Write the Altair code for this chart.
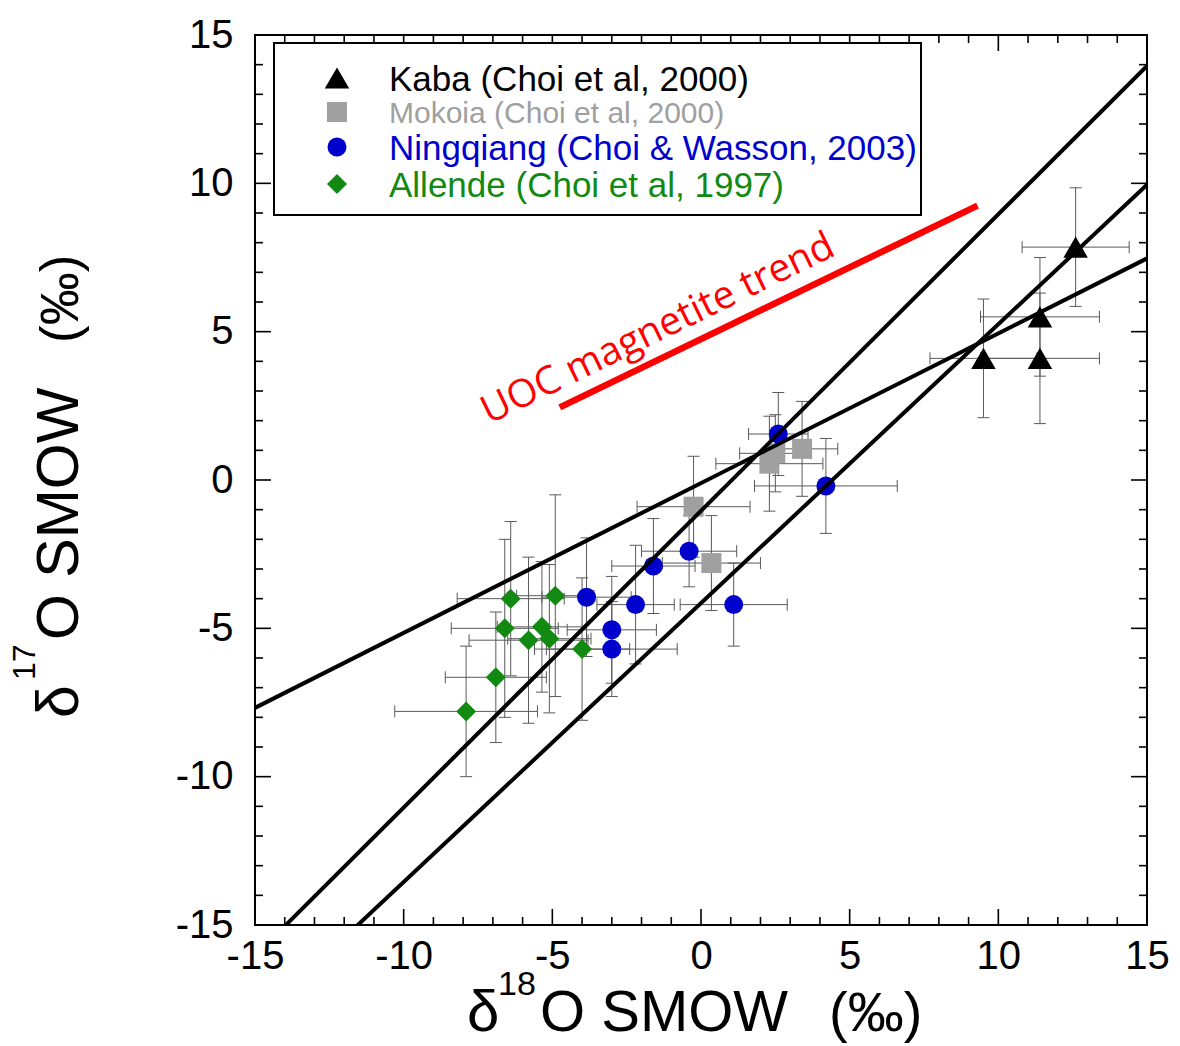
import altair as alt
import pandas as pd

# ---------------- data ----------------
kaba_x = [9.5, 11.4, 11.4, 12.6]
kaba_y = [4.1, 4.1, 5.5, 7.85]
kaba_xerr = [1.8, 2.0, 2.0, 1.8]
kaba_yerr = [2.0, 2.2, 2.0, 2.0]

mokoia_x = [-0.25, 0.35, 2.3, 2.5, 3.4]
mokoia_y = [-0.9, -2.8, 0.55, 0.9, 1.05]
mokoia_xerr = [1.9, 1.65, 1.8, 1.2, 1.2]
mokoia_yerr = [1.7, 1.6, 1.6, 1.3, 1.6]

ning_x = [2.6, 4.2, -1.6, -0.4, -3.85, -2.2, 1.1, -3.0, -3.0]
ning_y = [1.55, -0.2, -2.9, -2.4, -3.95, -4.2, -4.2, -5.05, -5.7]
ning_xerr = [1.0, 2.4, 1.4, 1.6, 1.5, 1.3, 1.8, 1.5, 2.2]
ning_yerr = [1.4, 1.6, 1.6, 1.2, 2.0, 2.0, 1.4, 1.8, 1.6]

allende_x = [-6.4, -4.9, -6.6, -5.35, -5.8, -5.1, -4.0, -6.9, -7.9]
allende_y = [-4.0, -3.9, -5.0, -4.95, -5.4, -5.35, -5.7, -6.65, -7.8]
allende_xerr = [1.8, 1.3, 1.8, 1.5, 2.0, 1.4, 1.6, 1.7, 2.4]
allende_yerr = [2.6, 3.4, 3.0, 2.2, 2.8, 2.5, 2.4, 2.2, 2.2]

series_names = ["Kaba (Choi et al, 2000)", "Mokoia (Choi et al, 2000)",
                "Ningqiang (Choi & Wasson, 2003)", "Allende (Choi et al, 1997)"]
series_colors = ["#000000", "#a0a0a0", "#0000cc", "#128a12"]
series_shapes = ["triangle-up", "square", "circle", "diamond"]
series_sizes = [600, 400, 360, 400]
legend_font_sizes = [35, 30, 35, 35]

# reference lines (endpoints at x = -15 and x = 15)
line_names = ["slope 1.0", "CCAM", "TFL"]
line_x0 = [-15, -15, -15]
line_x1 = [15, 15, 15]
line_y0 = [-16.04, -18.25, -7.68]
line_y1 = [13.96, 9.95, 7.47]

# UOC magnetite trend segment
trend_x = [-4.75, 9.3]
trend_y = [2.45, 9.25]
trend_label = "UOC magnetite trend"

major_ticks = [-15, -10, -5, 0, 5, 10, 15]
minor_ticks = [v for v in range(-14, 15) if v % 5 != 0]

# ---------------- tables ----------------
groups = [
    (kaba_x, kaba_y, kaba_xerr, kaba_yerr),
    (mokoia_x, mokoia_y, mokoia_xerr, mokoia_yerr),
    (ning_x, ning_y, ning_xerr, ning_yerr),
    (allende_x, allende_y, allende_xerr, allende_yerr),
]
rows = []
for i, (xs_, ys_, xe_, ye_) in enumerate(groups):
    for x, y, xe, ye in zip(xs_, ys_, xe_, ye_):
        rows.append(dict(series=series_names[i], order=i, x=x, y=y,
                         xlo=x - xe, xhi=x + xe, ylo=y - ye, yhi=y + ye,
                         color=series_colors[i], shape=series_shapes[i],
                         size=series_sizes[i]))
pts = pd.DataFrame(rows)

lines = pd.DataFrame({
    "name": line_names * 2,
    "x": line_x0 + line_x1,
    "y": line_y0 + line_y1,
})
trend = pd.DataFrame({"x": trend_x, "y": trend_y})
trend_txt = pd.DataFrame({"t": [trend_label], "x": [-1.45], "y": [5.1]})

FONT = "Liberation Sans"
xs = alt.Scale(domain=[-15, 15], nice=False, zero=False)
ys = alt.Scale(domain=[-15, 15], nice=False, zero=False)
xaxis = alt.Axis(values=major_ticks, labelFontSize=40, labelFont=FONT,
                 labelColor="black", ticks=False, domain=False, grid=False,
                 title=None, labelPadding=11, labelFlush=False,
                 labelOverlap=False, labelExpr="datum.value + ''")
yaxis = alt.Axis(values=major_ticks, labelFontSize=40, labelFont=FONT,
                 labelColor="black", ticks=False, domain=False, grid=False,
                 title=None, labelPadding=22, labelFlush=False,
                 labelOverlap=False, labelExpr="datum.value + ''")

X = alt.X("x:Q", scale=xs, axis=xaxis)
Y = alt.Y("y:Q", scale=ys, axis=yaxis)

W, H = 892, 890
ERR = "#5a5a5a"

# error bars
vbar = alt.Chart(pts).mark_rule(color=ERR, strokeWidth=1).encode(
    x=X, y=alt.Y("ylo:Q", scale=ys, axis=yaxis), y2="yhi:Q")
hbar = alt.Chart(pts).mark_rule(color=ERR, strokeWidth=1).encode(
    y=Y, x=alt.X("xlo:Q", scale=xs, axis=xaxis), x2="xhi:Q")
cap_lo = alt.Chart(pts).mark_rule(color=ERR, strokeWidth=1, xOffset=-6, x2Offset=6).encode(
    x=X, x2="x:Q", y=alt.Y("ylo:Q", scale=ys, axis=yaxis))
cap_hi = alt.Chart(pts).mark_rule(color=ERR, strokeWidth=1, xOffset=-6, x2Offset=6).encode(
    x=X, x2="x:Q", y=alt.Y("yhi:Q", scale=ys, axis=yaxis))
cap_l = alt.Chart(pts).mark_rule(color=ERR, strokeWidth=1, yOffset=-6, y2Offset=6).encode(
    y=Y, y2="y:Q", x=alt.X("xlo:Q", scale=xs, axis=xaxis))
cap_r = alt.Chart(pts).mark_rule(color=ERR, strokeWidth=1, yOffset=-6, y2Offset=6).encode(
    y=Y, y2="y:Q", x=alt.X("xhi:Q", scale=xs, axis=xaxis))

points = alt.Chart(pts).mark_point(filled=True, opacity=1).encode(
    x=X, y=Y,
    shape=alt.Shape("shape:N", scale=None),
    color=alt.Color("color:N", scale=None),
    size=alt.Size("size:Q", scale=None),
    order=alt.Order("order:Q"),
)

ref_lines = alt.Chart(lines).mark_line(color="black", strokeWidth=4, clip=True).encode(
    x=X, y=Y, detail="name:N")

trend_line = alt.Chart(trend).mark_line(color="#ff0000", strokeWidth=6.5, strokeCap="butt").encode(
    x=X, y=Y)
trend_text = alt.Chart(trend_txt).mark_text(
    color="#ff0000", font="Open Sans", fontSize=39, angle=334,
    align="center", baseline="middle").encode(x=X, y=Y, text="t:N")

# inward ticks on all four sides
maj = pd.DataFrame({"v": major_ticks})
mnr = pd.DataFrame({"v": minor_ticks})
tick_layers = []
for df, L in ((maj, 16), (mnr, 8)):
    XV = alt.X("v:Q", scale=xs, axis=xaxis)
    YV = alt.Y("v:Q", scale=ys, axis=yaxis)
    tick_layers += [
        alt.Chart(df).mark_rule(color="black", strokeWidth=1.6).encode(
            x=XV, y=alt.value(H), y2=alt.value(H - L)),
        alt.Chart(df).mark_rule(color="black", strokeWidth=1.6).encode(
            x=XV, y=alt.value(0), y2=alt.value(L)),
        alt.Chart(df).mark_rule(color="black", strokeWidth=1.6).encode(
            y=YV, x=alt.value(0), x2=alt.value(L)),
        alt.Chart(df).mark_rule(color="black", strokeWidth=1.6).encode(
            y=YV, x=alt.value(W), x2=alt.value(W - L)),
    ]

# legend (manual)
leg = pd.DataFrame({
    "label": series_names, "color": series_colors, "shape": series_shapes,
    "size": series_sizes, "fs": legend_font_sizes, "ly": [43, 77, 112, 149],
})
leg_box = alt.Chart(pd.DataFrame({"a": [0]})).mark_rect(
    fill="white", stroke="black", strokeWidth=2).encode(
    x=alt.value(19), x2=alt.value(666), y=alt.value(8), y2=alt.value(180))
leg_sym = alt.Chart(leg).mark_point(filled=True, opacity=1).encode(
    x=alt.value(82), y=alt.Y("ly:Q", scale=None),
    shape=alt.Shape("shape:N", scale=None),
    color=alt.Color("color:N", scale=None),
    size=alt.Size("size:Q", scale=None))
leg_txt = alt.Chart(leg).mark_text(
    align="left", baseline="middle", font=FONT, dy=2).encode(
    x=alt.value(134), y=alt.Y("ly:Q", scale=None), text="label:N",
    size=alt.Size("fs:Q", scale=None),
    color=alt.Color("color:N", scale=None))

# axis titles (built from pieces so the isotope number is a superscript)
def txt(s, x, y, size, angle=0):
    return alt.Chart(pd.DataFrame({"t": [s]})).mark_text(
        align="left", baseline="alphabetic", font=FONT, fontSize=size,
        angle=angle, color="black").encode(
        x=alt.value(x), y=alt.value(y), text="t:N")

titles = [
    txt("δ", 212, 996, 58),
    txt("18", 243, 960, 34),
    txt("O SMOW", 285, 996, 58),
    txt("(‰)", 574, 996, 56),
    txt("δ", -177, 683, 59, 270),
    txt("17", -220, 645, 32, 270),
    txt("O SMOW", -177, 605, 59, 270),
    txt("(‰)", -177, 308, 53, 270),
]

chart = alt.layer(
    vbar, hbar, cap_lo, cap_hi, cap_l, cap_r,
    points, ref_lines, trend_line, trend_text,
    *tick_layers, leg_box, leg_sym, leg_txt, *titles,
).properties(
    width=W, height=H,
    padding={"left": 255, "top": 35, "right": 33, "bottom": 121},
    autosize=alt.AutoSizeParams(type="none"),
    background="white",
).configure_view(stroke="black", strokeWidth=2)

chart.save("out.html", embed_options={"renderer": "svg", "actions": False})
